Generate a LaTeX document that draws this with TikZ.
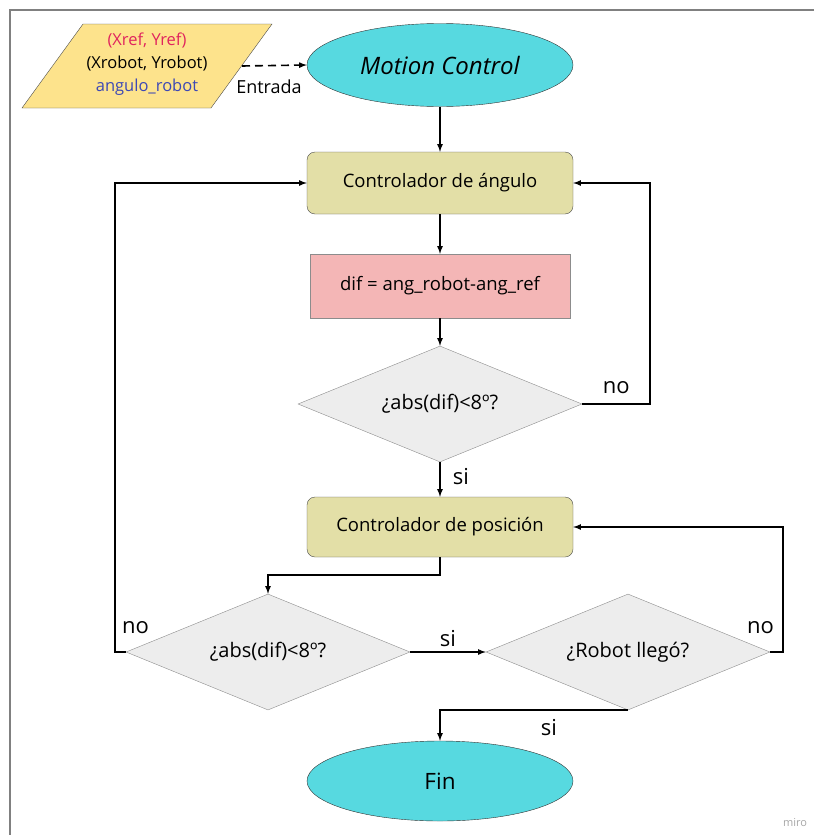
\documentclass[tikz,border=0pt]{standalone}
\usepackage{fontspec}
\setmainfont{Open Sans}
\usetikzlibrary{shapes.geometric}
\definecolor{amarillo}{HTML}{FDE38C}
\definecolor{cian}{HTML}{57D9E0}
\definecolor{caqui}{HTML}{E3DFA7}
\definecolor{rosa}{HTML}{F4B6B6}
\definecolor{grisclaro}{HTML}{EDEDED}
\definecolor{rojo}{HTML}{E0245E}
\definecolor{azul}{HTML}{3D48B5}
\tikzset{
	terminal/.style={ellipse, draw=black!80, fill=cian, minimum width=266, minimum height=83, inner sep=0},
	proceso/.style={rectangle, rounded corners=8, draw=black!70, fill=caqui, minimum width=266, minimum height=62, font=\fontsize{18.5}{22}\selectfont},
	decision/.style={diamond, aspect=2.5, draw=black!45, fill=grisclaro, minimum width=284, minimum height=116, inner sep=0, font=\fontsize{20}{24}\selectfont},
	flecha/.style={line width=1.6, -latex},
	etiqueta/.style={font=\fontsize{22}{26}\selectfont, inner sep=0}
}

\begin{document}
\begin{tikzpicture}[x=1pt, y=-1pt]
	\useasboundingbox (0,0) rectangle (814,835);
	\draw[black!50, line width=1.5](814,10)--(10,10)--(10,835);
	\node[black!35, font=\fontsize{11}{13}\selectfont] (miro) at (795,823) {miro};
	% entrada de datos
	\draw[draw=black!70, fill=amarillo](83,24)--(272,24)--(211,108)--(22,108)--cycle;
	\node[align=center, font=\fontsize{16.5}{23}\selectfont] (datos) at (147,64) {\textcolor{rojo}{(Xref, Yref)}\\(Xrobot, Yrobot)\\\textcolor{azul}{angulo\_robot}};
	\coordinate (salida) at (242,66);
	\node[terminal, font=\fontsize{24}{28}\selectfont\itshape] (mc) at (440,65) {Motion Control};
	\node[font=\fontsize{18}{22}\selectfont, anchor=base] (entrada) at (269,93) {Entrada};
	\draw[flecha, dashed, dash pattern=on 8 off 5](salida)--(mc.west);
	% bloques
	\node[proceso] (ca) at (440,183) {Controlador de ángulo};
	\node[proceso, rounded corners=0, fill=rosa, draw=black!45, minimum width=260, minimum height=64] (dif) at (440,286) {dif = ang\_robot-ang\_ref};
	\node[decision] (d1) at (440,404) {¿abs(dif)<8º?};
	\node[proceso, minimum height=60] (cp) at (440,527) {Controlador de posición};
	\node[decision] (d2) at (268,652) {¿abs(dif)<8º?};
	\node[decision] (d3) at (628,652) {¿Robot llegó?};
	\node[terminal, minimum height=80, font=\fontsize{22.5}{26}\selectfont] (fin) at (440,781) {Fin};
	% conexiones
	\draw[flecha](mc)--(ca);
	\draw[flecha](ca)--(dif);
	\draw[flecha](dif)--(d1);
	\draw[flecha](d1.east)--node[etiqueta, above=9] (no1) {no} ++(68,0) |- (ca.east);
	\draw[flecha](d1.south)--node[etiqueta, pos=.4, right=12] (si1) {si} (cp.north);
	\draw[flecha](cp.south)-- ++(0,18) -| (d2.north);
	\draw[flecha](d2.west)-- ++(-11,0) |- (ca.west);
	\node[etiqueta, anchor=base west, xshift=-4, yshift=19] (no2) at (d2.west) {no};
	\draw[flecha](d2.east)--node[etiqueta, above=4] (si2) {si} (d3.west);
	\draw[flecha](d3.east)-- ++(13,0) |- (cp.east);
	\node[etiqueta, anchor=base east, xshift=4, yshift=19] (no3) at (d3.east) {no};
	\draw[flecha](d3.south) -| (fin.north);
	\node[etiqueta, below=9] (si3) at (549,710) {si};
\end{tikzpicture}
\end{document}
